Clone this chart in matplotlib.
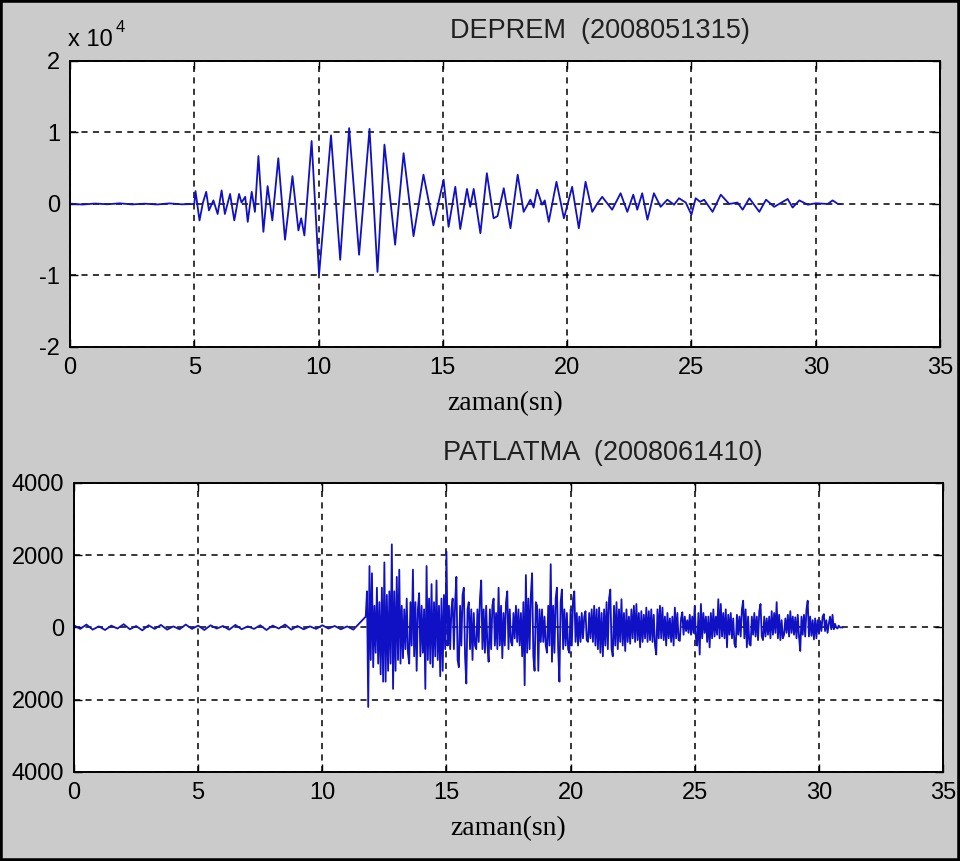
import numpy as np
import matplotlib.pyplot as plt
from matplotlib.patches import Rectangle

plt.rcParams['font.family'] = 'Liberation Sans'
plt.rcParams['axes.unicode_minus'] = False

# DEPREM: turning points of the trace (time in s, amplitude in counts)
quake_t = [0.0, 0.5, 1.0, 1.5, 2.0, 2.5, 3.0, 3.5, 4.0, 4.5, 5.0,
           5.05, 5.21, 5.35, 5.48, 5.59, 5.77, 5.94, 6.10, 6.23, 6.44, 6.61, 6.80, 6.90, 7.05, 7.15,
           7.31, 7.44, 7.58, 7.78, 7.95, 8.14, 8.38, 8.65, 8.95, 9.19, 9.30, 9.43, 9.72, 10.02,
           10.50, 10.87, 11.23, 11.63, 12.05, 12.37, 12.65, 13.08, 13.42, 13.82, 14.22, 14.62,
           15.03, 15.23, 15.50, 15.70, 15.97, 16.10, 16.24, 16.51, 16.77, 17.04, 17.20, 17.45, 17.72,
           18.01, 18.25, 18.52, 18.65, 18.79, 18.99, 19.10, 19.26, 19.57, 19.87, 20.20, 20.47, 20.74,
           21.01, 21.20, 21.41, 21.81, 22.15, 22.42, 22.66, 22.82, 23.02, 23.23, 23.49, 23.76, 24.03,
           24.30, 24.50, 24.77, 25.00, 25.17, 25.35, 25.51, 25.85, 26.18, 26.52, 26.85, 27.06, 27.33,
           27.73, 28.00, 28.33, 28.87, 29.07, 29.34, 29.68, 30.01, 30.48, 30.68, 30.89, 31.0]
quake_val = [50, -80, 60, -40, 90, -60, 40, -70, 80, -50, 0,
             1800, -2300, 200, 1700, -900, 500, -1400, 1900, -1400, 1400, -2300, 1400, 200, 1000, -2500,
             1700, -1100, 6700, -3900, 2500, -2300, 6400, -5000, 3900, -3700, -2000, -4400, 8800, -9900,
             9600, -7800, 10600, -7100, 10500, -9500, 8300, -5700, 7100, -4500, 4100, -3000,
             3400, -3200, 2400, -3500, 2100, -400, 2100, -4100, 4300, -2000, -1700, 2200, -3400,
             4100, -1100, 600, -500, 2000, -100, 500, -2500, 3100, -2000, 2400, -3400, 3100,
             -1100, 0, 1000, -800, 1500, -1100, 1300, -800, 1500, -2200, 1500, -400, 600,
             -100, 800, 200, -1500, 800, 300, 600, -1100, 1300, 0, 200, -800, 800,
             -1100, 600, -400, 700, -500, 500, -100, 100, 0, 500, 0, 0]

# PATLATMA: quiet part (every 0.25 s) and event part (every 0.05 s from 11.75 s)
blast_pre = [60, -40, 80, -60, 30, -70, 50, -30, 90, -50, 40, -80, 60, -40, 70, -60,
             30, -50, 80, -40, 50, -70, 60, -30, 40, -60, 70, -50, 30, -40, 60, -70,
             50, -30, 80, -60, 40, -50, 30, -40, 60, -30, 40, -50, 30, -60, 120]
blast_event = [
    300, 1000, -2200, 1700, -900, 1500, -1100, 600, -700, 1100, -1000, 700, -1300, 1100, -1500, 1800, -1500, 900, -1200, 1000,
    -1000, 2300, -1700, 1000, -1200, 1400, -900, 1600, -1000, 600, -850, 500, -600, 800, -700, -1000, 700, -500, 1600, -800,
    700, -1200, 500, 950, -800, 600, -700, 500, -1700, 1700, -900, 800, -1000, 1200, -1100, 700, -800, 1300, -900, 600,
    -1350, 800, -1200, 900, -600, 2100, -500, 600, -600, 500, 800, -600, 700, 1400, -900, -1100, 600, -500, 900, 1100,
    -800, -1550, 500, 700, -600, 500, -900, 400, -500, -600, 500, -400, 800, 1300, -600, 500, -700, 600, -500, -950,
    500, -600, 600, 800, -500, 400, -600, 1100, -500, 600, -850, 400, -500, 700, 1000, -600, 500, -400, -500, 400,
    -300, 600, -400, 500, -500, 400, -800, 700, -1600, 1450, -700, 800, -600, 900, 1500, -800, -1200, 700, 600, -1200,
    500, -400, 500, -400, 300, -500, -700, 600, -500, 1750, -950, 600, -700, 800, 1100, -600, -1500, 700, 1050, -600,
    500, -500, 400, -600, -700, 500, -500, 800, 1000, -400, 400, -500, 300, -400, 400, -300, 300, 450, -350, -400,
    400, -300, 500, -400, 600, -500, 500, -600, 550, -700, 400, -800, 500, -500, 700, -600, 800, 1050, -600, -800,
    600, -500, 700, -600, 500, -400, 780, -500, 400, -650, 500, -400, 300, -450, 500, -300, 600, -400, 650, -350,
    400, -550, 450, -400, 350, -300, 550, -400, 450, -350, 500, -400, 350, -500, -750, 500, -300, 600, -300, 550,
    -350, 300, -500, 400, -300, 250, -400, 300, -500, 550, -300, 400, -350, -370, 250, 420, -200, 300, -100, 200,
    -150, 350, -200, 300, -150, 600, -300, -500, 400, -750, 650, -300, 400, -150, 300, -400, 300, -550, 400, -300,
    500, -250, 300, -200, 780, -300, 650, -250, 400, -300, 500, -550, 350, -200, 400, -300, 250, -450, -550, 350,
    -200, 300, -250, 500, 740, -300, 500, -550, 300, -450, -500, 300, -200, 400, -250, 300, -350, 450, 650, -250,
    -350, 300, -250, 250, -200, 300, -300, 450, -200, 400, -150, 700, -300, 350, -350, 200, -300, -200, 250, -150,
    350, -250, 450, -150, 300, -200, 280, -300, 350, -250, -650, 300, -200, 350, -250, 500, 740, -250, 300, -230,
    200, -330, 250, -300, 200, -150, 180, -100, 300, 370, -100, 200, -150, 100, 300, -50, 350, -50, 100, 0,
    -30, 50, 0, 0, 0]

xticks = [0, 5, 10, 15, 20, 25, 30, 35]
quake_yticks = [-2, -1, 0, 1, 2]
quake_ylabels = ['-2', '-1', '0', '1', '2']
blast_yticks = [-4000, -2000, 0, 2000, 4000]
blast_ylabels = ['4000', '2000', '0', '2000', '4000']

blast_t = np.concatenate([np.arange(len(blast_pre)) * 0.25,
                          11.75 + np.arange(len(blast_event)) * 0.05])
blast_val = np.array(blast_pre + blast_event)

line_color = '#1010c4'

fig = plt.figure(figsize=(9.6, 8.61), dpi=100, facecolor='#cbcbcb')
ax1 = fig.add_axes([0.0729, 0.5970, 0.9063, 0.3322])
ax2 = fig.add_axes([0.0771, 0.1034, 0.9052, 0.3357])


def style_axes(ax, yticks, ylabels, title):
    ax.set_xlim(0, 35)
    ax.set_xticks(xticks)
    ax.set_yticks(yticks)
    ax.set_yticklabels(ylabels)
    ax.grid(True, color='black', linestyle=(0, (4, 3.5)), linewidth=1.1)
    ax.tick_params(direction='in', top=True, right=True, length=6, width=1,
                   labelsize=17, pad=7, colors='black')
    for s in ax.spines.values():
        s.set_linewidth(1.4)
    ax.set_xlabel('zaman(sn)', fontfamily='Liberation Serif', fontsize=20, labelpad=9)
    ax.text(0.609, 1.105, title, transform=ax.transAxes, ha='center', va='center',
            fontsize=19.5, color='#202020')


ax1.plot(quake_t, np.array(quake_val) / 1e4, color=line_color, linewidth=1.3)
ax1.set_ylim(-2, 2)
style_axes(ax1, quake_yticks, quake_ylabels, 'DEPREM  (2008051315)')

ax2.plot(blast_t, blast_val, color=line_color, linewidth=1.3)
ax2.set_ylim(-4000, 4000)
style_axes(ax2, blast_yticks, blast_ylabels, 'PATLATMA  (2008061410)')

fig.text(68 / 960, 1 - 40 / 861, 'x 10', fontsize=17, va='center')
fig.text(116 / 960, 1 - 27 / 861, '4', fontsize=12, va='center')

fig.add_artist(Rectangle((0, 0), 1, 1, transform=fig.transFigure, fill=False,
                         edgecolor='black', linewidth=4))

fig.savefig('out.png', dpi=100, facecolor=fig.get_facecolor())
